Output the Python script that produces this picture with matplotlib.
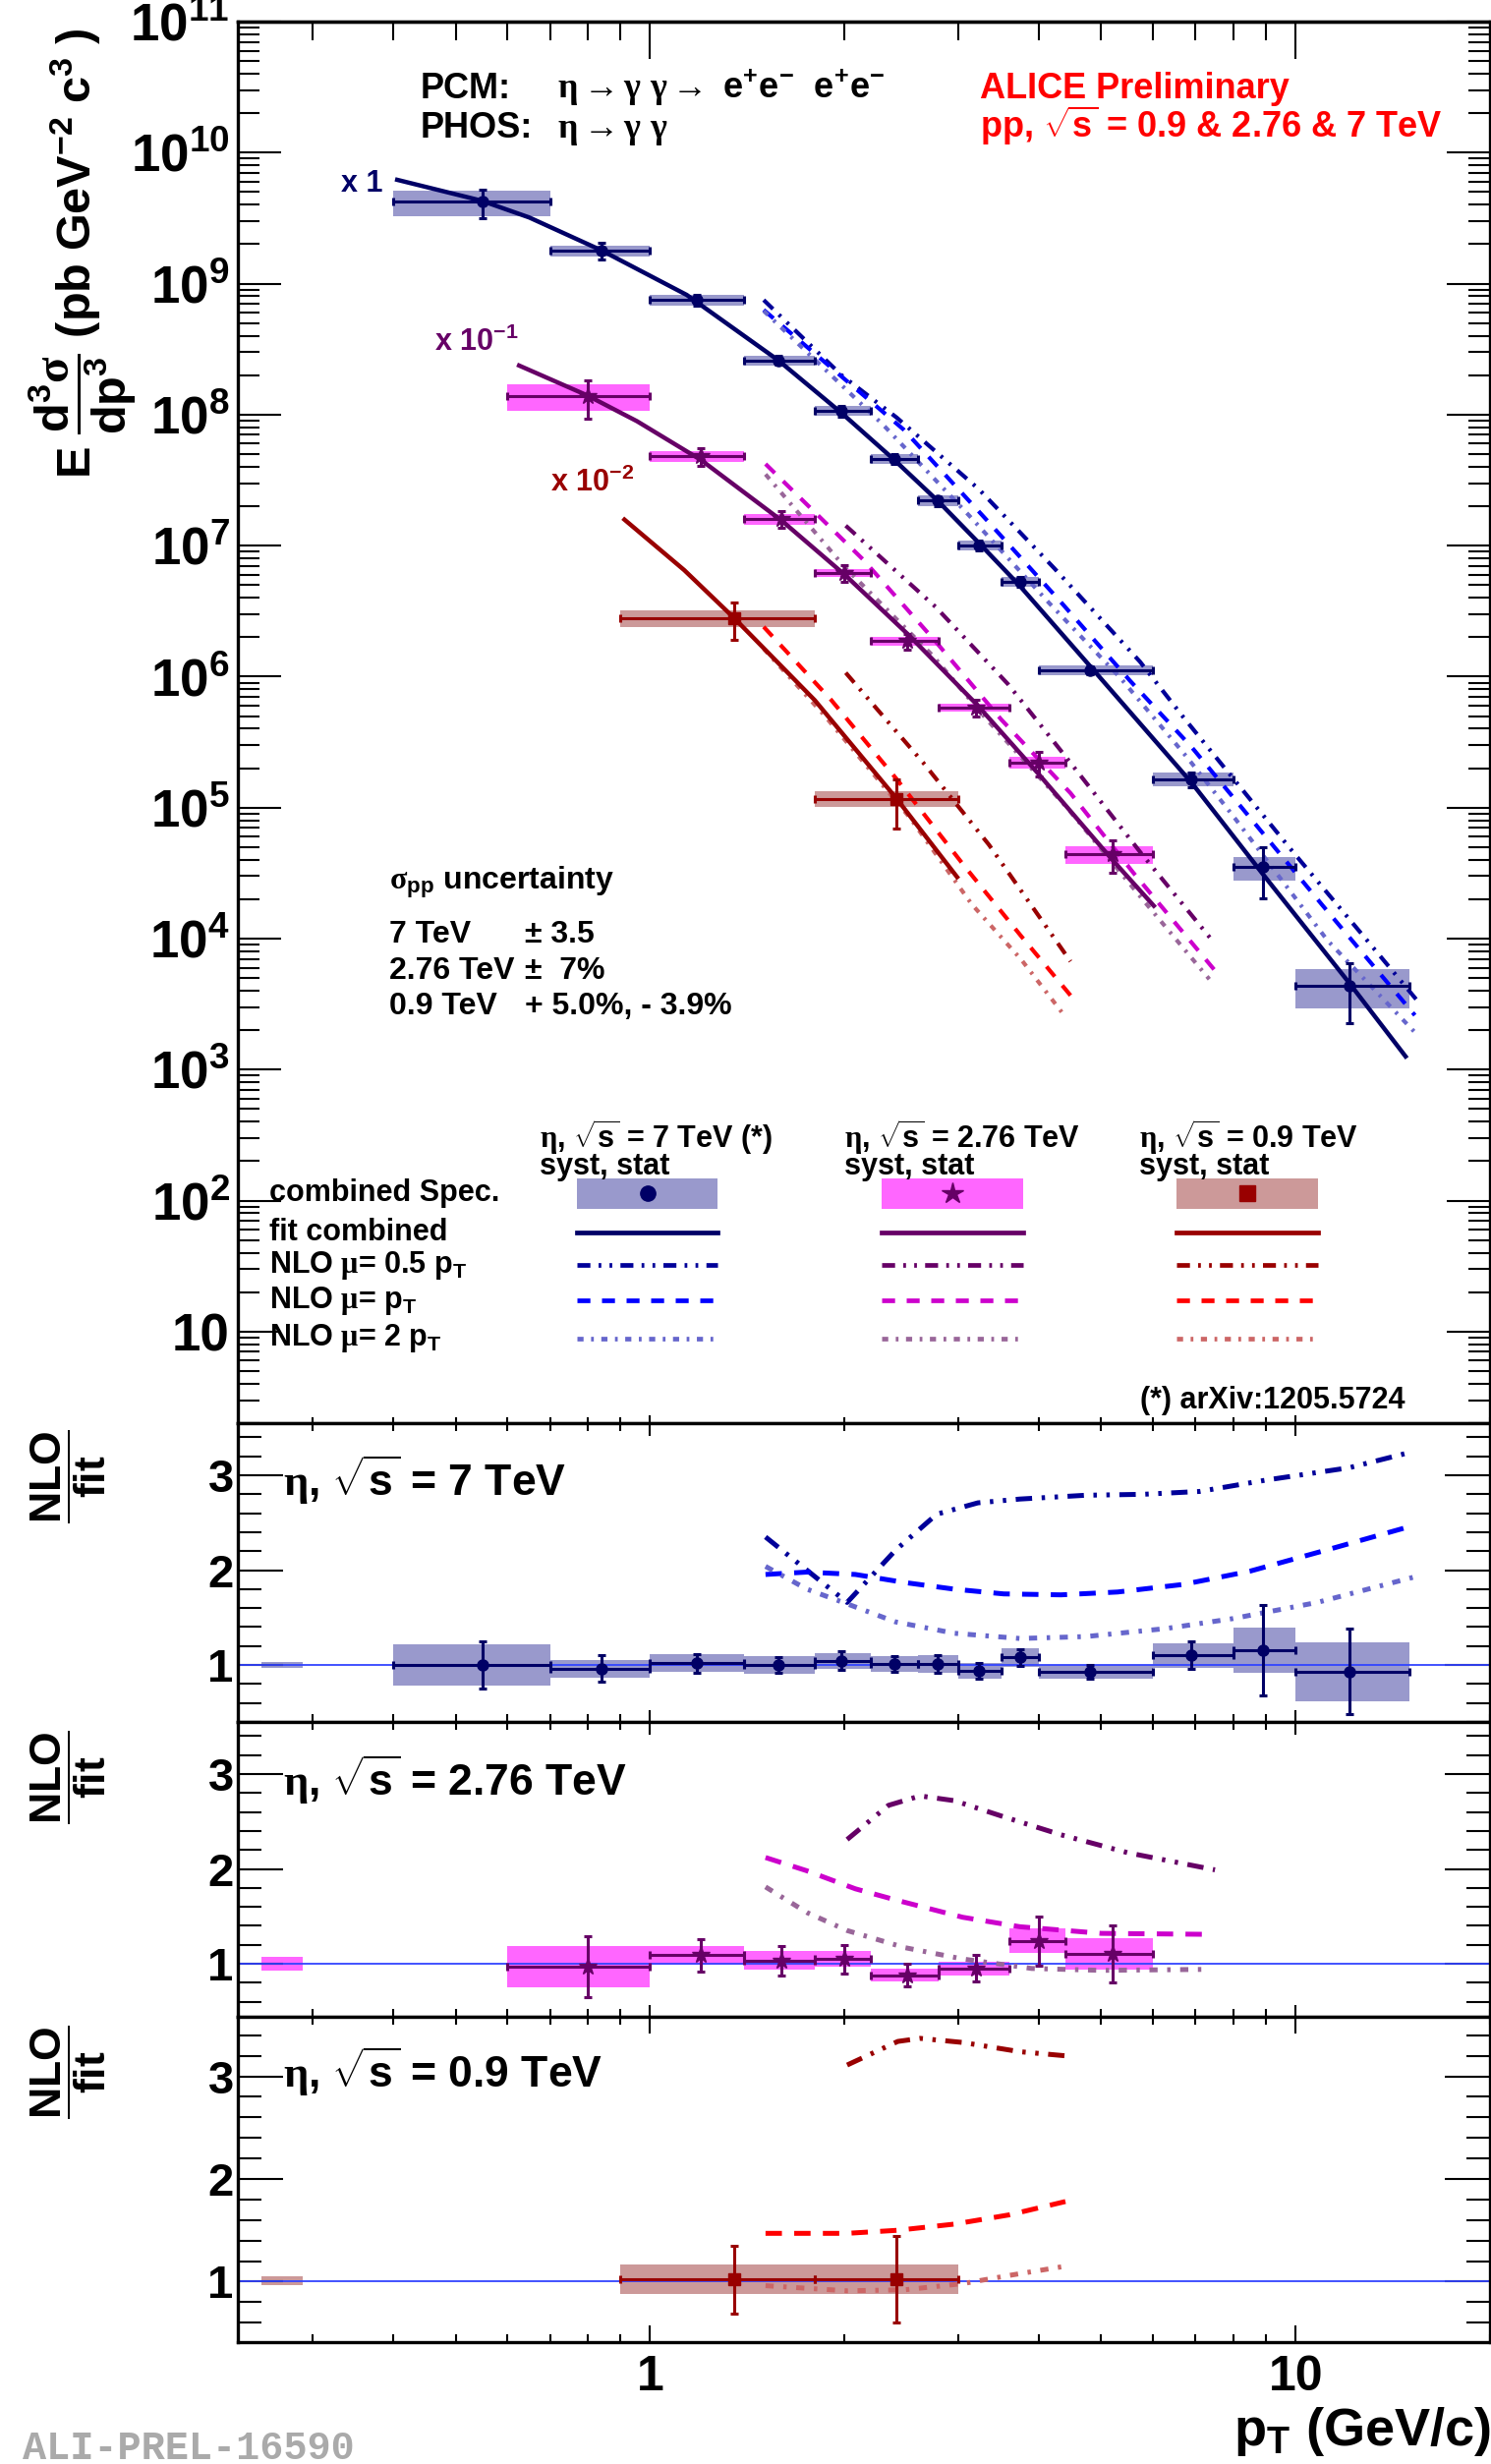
from __future__ import annotations

import matplotlib

matplotlib.use("Agg")
import matplotlib.pyplot as plt
import numpy as np
from matplotlib.lines import Line2D
from matplotlib.patches import Rectangle
from matplotlib.ticker import FixedFormatter, FixedLocator, NullFormatter

FIG_W, FIG_H = 1517, 2507

# ---- eta, sqrt(s) = 7 TeV (x 1) -------------------------------------------
PT_EDGES_7 = [0.4, 0.7, 1.0, 1.4, 1.8, 2.2, 2.6, 3.0, 3.5, 4.0, 6.0, 8.0, 10.0, 15.0]
PT_7 = [0.55, 0.84, 1.18, 1.58, 1.98, 2.39, 2.79, 3.23, 3.74, 4.8, 6.9, 8.9, 12.1]
YIELD_7 = [4.2e9, 1.78e9, 7.5e8, 2.6e8, 1.07e8, 4.6e7, 2.2e7, 1.0e7, 5.3e6, 1.12e6, 1.65e5, 3.5e4, 4.4e3]
RATIO_7 = [1.0, 0.96, 1.02, 1.0, 1.045, 1.01, 1.01, 0.94, 1.08, 0.93, 1.10, 1.155, 0.93]
SYST_7 = [0.22, 0.095, 0.095, 0.09, 0.085, 0.085, 0.095, 0.08, 0.095, 0.075, 0.125, 0.235, 0.31]
STAT_7 = [0.25, 0.14, 0.10, 0.08, 0.10, 0.08, 0.09, 0.08, 0.09, 0.07, 0.145, 0.48, 0.45]
FIT_PT_7 = [0.406, 0.548, 0.65, 0.84, 1.14, 1.58, 1.98, 2.38, 2.79, 3.23, 3.73, 4.82, 6.9, 8.9, 12.1, 14.8]
FIT_7 = [6.2e9, 4.3e9, 3.2e9, 1.8e9, 8.2e8, 2.6e8, 1.03e8, 4.6e7, 2.2e7, 1.05e7, 5.0e6, 1.18e6,
         1.55e5, 3.1e4, 4.6e3, 1.26e3]
NLO05_PT_7 = [1.5, 1.98, 2.41, 3.23, 4.23, 5.74, 6.7, 9.9, 12.9, 15.4]
NLO05_7 = [7.5e8, 2.0e8, 9.5e7, 2.7e7, 6.7e6, 1.3e6, 4.9e5, 4.6e4, 9.7e3, 3.4e3]
NLO1_PT_7 = [1.5, 2.47, 3.35, 4.33, 5.54, 6.9, 11.0, 15.3]
NLO1_7 = [6.3e8, 7.7e7, 1.5e7, 3.7e6, 9.3e5, 2.9e5, 1.8e4, 2.6e3]
NLO2_PT_7 = [1.5, 2.3, 3.12, 4.14, 5.35, 6.8, 8.05, 11.2, 15.5]
NLO2_7 = [6.2e8, 8.3e7, 1.7e7, 3.7e6, 9.8e5, 2.4e5, 8.3e4, 9.7e3, 1.8e3]
R_NLO05_PT_7 = [1.51, 2.02, 2.4, 2.78, 3.22, 3.74, 4.73, 5.8, 7.1, 9.0, 12.1, 15.2]
R_NLO05_7 = [2.35, 1.66, 2.21, 2.59, 2.71, 2.75, 2.79, 2.8, 2.83, 2.95, 3.08, 3.25]
R_NLO1_PT_7 = [1.51, 1.75, 2.08, 2.48, 2.96, 3.53, 4.33, 5.3, 6.7, 8.5, 11.4, 15.2]
R_NLO1_7 = [1.955, 1.98, 1.955, 1.87, 1.80, 1.75, 1.74, 1.77, 1.85, 1.99, 2.23, 2.47]
R_NLO2_PT_7 = [1.51, 1.75, 2.02, 2.4, 2.96, 3.74, 4.73, 6.3, 8.0, 10.8, 15.5]
R_NLO2_7 = [2.04, 1.8, 1.645, 1.455, 1.335, 1.28, 1.30, 1.385, 1.49, 1.66, 1.94]
NORM_7 = (0.035, 0.035)

# ---- eta, sqrt(s) = 2.76 TeV (x 10^-1) ------------------------------------
PT_EDGES_276 = [0.6, 1.0, 1.4, 1.8, 2.2, 2.8, 3.6, 4.4, 6.0]
PT_276 = [0.8, 1.2, 1.6, 2.0, 2.5, 3.2, 4.0, 5.2]
YIELD_276 = [1.38e9, 4.8e8, 1.6e8, 6.2e7, 1.87e7, 5.8e6, 2.2e6, 4.4e5]
RATIO_276 = [0.97, 1.09, 1.035, 1.05, 0.88, 0.95, 1.24, 1.10]
SYST_276 = [0.22, 0.10, 0.10, 0.08, 0.065, 0.07, 0.13, 0.165]
STAT_276 = [0.32, 0.17, 0.155, 0.15, 0.12, 0.14, 0.26, 0.30]
FIT_PT_276 = [0.627, 0.8, 0.955, 1.2, 1.6, 2.01, 2.51, 3.21, 4.0, 5.2, 6.03]
FIT_276 = [2.37e9, 1.4e9, 8.9e8, 4.5e8, 1.55e8, 5.9e7, 2.1e7, 6.1e6, 1.8e6, 4.0e5, 1.78e5]
NLO05_PT_276 = [2.01, 2.77, 3.59, 4.48, 5.74, 7.45]
NLO05_276 = [1.42e8, 3.4e7, 8.7e6, 2.2e6, 4.6e5, 9.5e4]
NLO1_PT_276 = [1.51, 2.14, 2.77, 3.5, 4.48, 5.6, 7.5]
NLO1_276 = [4.2e8, 7.8e7, 1.85e7, 4.7e6, 1.29e6, 3.2e5, 5.7e4]
NLO2_PT_276 = [1.51, 2.0, 2.74, 3.3, 4.44, 5.82, 7.35]
NLO2_276 = [3.5e8, 6.9e7, 1.45e7, 4.9e6, 9.8e5, 1.94e5, 4.9e4]
R_NLO05_PT_276 = [2.02, 2.34, 2.62, 2.96, 3.53, 4.33, 5.5, 7.5]
R_NLO05_276 = [2.31, 2.67, 2.77, 2.72, 2.55, 2.36, 2.17, 1.99]
R_NLO1_PT_276 = [1.51, 1.75, 2.08, 2.41, 3.05, 3.74, 5.0, 7.25]
R_NLO1_276 = [2.12, 1.98, 1.79, 1.67, 1.49, 1.39, 1.32, 1.31]
R_NLO2_PT_276 = [1.51, 1.75, 2.02, 2.48, 3.05, 3.9, 5.0, 7.2]
R_NLO2_276 = [1.81, 1.54, 1.35, 1.17, 1.05, 0.95, 0.93, 0.94]
NORM_276 = (0.07, 0.07)

# ---- eta, sqrt(s) = 0.9 TeV (x 10^-2) -------------------------------------
PT_EDGES_09 = [0.9, 1.8, 3.0]
PT_09 = [1.35, 2.41]
YIELD_09 = [2.8e8, 1.17e7]
RATIO_09 = [1.02, 1.02]
SYST_09 = [0.145, 0.145]
STAT_09 = [0.33, 0.42]
FIT_PT_09 = [0.913, 1.13, 1.35, 1.8, 2.41, 2.99]
FIT_09 = [1.58e9, 6.5e8, 2.8e8, 6.6e7, 1.17e7, 2.95e6]
NLO05_PT_09 = [2.01, 2.65, 3.35, 4.48]
NLO05_09 = [1.07e8, 2.2e7, 5.2e6, 6.7e5]
NLO1_PT_09 = [1.5, 1.91, 2.41, 3.08, 3.76, 4.52]
NLO1_09 = [2.4e8, 6.6e7, 1.65e7, 3.5e6, 1.04e6, 3.5e5]
NLO2_PT_09 = [1.5, 1.86, 2.53, 3.15, 3.76, 4.38]
NLO2_09 = [1.63e8, 5.1e7, 8.3e6, 1.83e6, 6.9e5, 2.6e5]
R_NLO05_PT_09 = [2.02, 2.42, 2.62, 3.05, 3.74, 4.4]
R_NLO05_09 = [3.11, 3.34, 3.37, 3.33, 3.24, 3.2]
R_NLO1_PT_09 = [1.51, 2.02, 2.42, 2.96, 3.6, 4.4]
R_NLO1_09 = [1.47, 1.47, 1.5, 1.56, 1.65, 1.78]
R_NLO2_PT_09 = [1.51, 2.02, 2.48, 3.05, 3.6, 4.4]
R_NLO2_09 = [0.96, 0.91, 0.92, 0.98, 1.06, 1.15]
NORM_09 = (0.05, 0.039)

SCALES = [1.0, 0.1, 0.01]
Y_DECADES = list(range(1, 12))

# ROOT-like palette
STYLE_7 = dict(line="#000066", box="#9999cc", nlo05="#000099", nlo1="#0000ff", nlo2="#6666cc", marker="o", ms=8)
STYLE_276 = dict(line="#660066", box="#ff66ff", nlo05="#660066", nlo1="#cc00cc", nlo2="#996699", marker="*", ms=13)
STYLE_09 = dict(line="#990000", box="#cc9999", nlo05="#990000", nlo1="#ff0000", nlo2="#cc6666", marker="s", ms=8)

DASH_05 = [9.5, 6.0, 2.0, 6.0, 2.0, 6.0]
DASH_1 = [9.5, 8.5]
DASH_2 = [4.5, 5.5, 2.0, 5.5]


def fx(px: float) -> float:
    return px / FIG_W


def fy(py: float) -> float:
    return 1.0 - py / FIG_H


def add_axes_px(fig, left, top, right, bottom):
    return fig.add_axes([fx(left), fy(bottom), (right - left) / FIG_W, (bottom - top) / FIG_H])


def log_minor(lo: float, hi: float) -> list[float]:
    out = []
    for dec in range(-2, 12):
        for m in range(2, 10):
            v = m * 10.0 ** dec
            if lo <= v <= hi:
                out.append(v)
    return out


def style_x(ax, major_len, minor_len, top=True):
    ax.set_xscale("log")
    ax.set_xlim(0.23, 20)
    ax.xaxis.set_major_locator(FixedLocator([1, 10]))
    ax.xaxis.set_minor_locator(FixedLocator(log_minor(0.23, 20)))
    ax.xaxis.set_major_formatter(NullFormatter())
    ax.xaxis.set_minor_formatter(NullFormatter())
    ax.tick_params(axis="x", which="major", direction="in", top=top, bottom=True, length=major_len, width=1.5)
    ax.tick_params(axis="x", which="minor", direction="in", top=top, bottom=True, length=minor_len, width=1.5)
    for sp in ax.spines.values():
        sp.set_linewidth(2.4)


def draw_main(ax, edges, pts, vals, ratio, syst, stat, scale, st, fit, nlos):
    lo = np.array(edges[:-1])
    hi = np.array(edges[1:])
    x = np.array(pts)
    y = np.array(vals) * scale
    rs = np.array(syst) / np.array(ratio)
    rt = np.array(stat) / np.array(ratio)
    ax.bar(lo, y * 2 * rs, width=hi - lo, bottom=y * (1 - rs), align="edge", color=st["box"], lw=0, zorder=1)
    for (px_, py_), col, dash in zip(nlos, (st["nlo05"], st["nlo1"], st["nlo2"]), (DASH_05, DASH_1, DASH_2)):
        ax.plot(px_, np.array(py_) * scale, color=col, lw=3.0, dashes=dash, zorder=2)
    ax.plot(fit[0], np.array(fit[1]) * scale, color=st["line"], lw=3.2, zorder=3)
    ax.errorbar(x, y, xerr=[x - lo, hi - x], yerr=y * rt, fmt=st["marker"], color=st["line"], ms=st["ms"],
                elinewidth=2.2, capsize=3, capthick=2.2, zorder=4)


def draw_ratio(ax, edges, pts, ratio, syst, stat, st, norm, curves, ylim):
    style_x(ax, 9, 6)
    ax.set_ylim(*ylim)
    ax.yaxis.set_major_locator(FixedLocator([1, 2, 3]))
    ax.yaxis.set_major_formatter(FixedFormatter(["1", "2", "3"]))
    ax.yaxis.set_minor_locator(FixedLocator([v / 10 for v in range(4, 36, 2) if v % 10]))
    ax.tick_params(axis="y", which="major", direction="in", right=True, length=33, width=1.5, pad=3,
                   labelsize=34)
    ax.tick_params(axis="y", which="minor", direction="in", right=True, length=17, width=1.5)
    ax.axhline(1.0, color="#3344ff", lw=1.3, zorder=2)
    # normalisation uncertainty box
    ax.add_patch(Rectangle((0.25, 1 - norm[1]), 0.04, norm[0] + norm[1], color=st["box"], lw=0, zorder=1))
    lo = np.array(edges[:-1])
    hi = np.array(edges[1:])
    x = np.array(pts)
    r = np.array(ratio)
    s = np.array(syst)
    ax.bar(lo, 2 * s, width=hi - lo, bottom=r - s, align="edge", color=st["box"], lw=0, zorder=1)
    for (px_, py_), col, dash in zip(curves, (st["nlo05"], st["nlo1"], st["nlo2"]),
                                     ([12, 7, 2.5, 7, 2.5, 7], [12, 9], [6, 7, 2.5, 7])):
        ax.plot(px_, py_, color=col, lw=3.6, dashes=dash, zorder=3)
    ax.errorbar(x, r, xerr=[x - lo, hi - x], yerr=stat, fmt=st["marker"], color=st["line"], ms=st["ms"],
                elinewidth=2.2, capsize=3, capthick=2.2, zorder=4)


def legend_block(fig):
    rows = [1214, 1254, 1287, 1323, 1362]
    labels = ["combined Spec.", "fit combined", r"NLO $\mu$= 0.5 $\mathbf{p_{T}}$", r"NLO $\mu$= $\mathbf{p_{T}}$",
              r"NLO $\mu$= 2 $\mathbf{p_{T}}$"]
    for yy, lab in zip(rows, labels):
        fig.text(fx(274), fy(yy), lab, va="center", fontsize=22)
    cols = [
        (587, 730, STYLE_7, r"$\eta$, $\sqrt{\mathbf{s}}$ = 7 TeV (*)"),
        (897, 1041, STYLE_276, r"$\eta$, $\sqrt{\mathbf{s}}$ = 2.76 TeV"),
        (1197, 1341, STYLE_09, r"$\eta$, $\sqrt{\mathbf{s}}$ = 0.9 TeV"),
    ]
    for x0, x1, st, head in cols:
        fig.text(fx(x0 - 38), fy(1168), head, fontsize=22)
        fig.text(fx(x0 - 38), fy(1195), "syst, stat", fontsize=22)
        fig.add_artist(Rectangle((fx(x0), fy(1230)), (x1 - x0) / FIG_W, 31 / FIG_H, transform=fig.transFigure,
                                 color=st["box"], lw=0))
        fig.add_artist(Line2D([fx((x0 + x1) / 2)], [fy(1214)], marker=st["marker"], ms=st["ms"] + 3,
                              color=st["line"], transform=fig.transFigure))
        fig.add_artist(Line2D([fx(x0), fx(x1)], [fy(1254)] * 2, lw=3.4, color=st["line"], transform=fig.transFigure))
        for yy, col, dash in ((1287, st["nlo05"], DASH_05), (1323, st["nlo1"], DASH_1), (1362, st["nlo2"], DASH_2)):
            fig.add_artist(Line2D([fx(x0), fx(x1)], [fy(yy)] * 2, lw=3.4, color=col, dashes=dash,
                                  transform=fig.transFigure))


def main() -> None:
    plt.rcParams.update({
        "font.family": ["Liberation Sans", "DejaVu Sans"],
        "font.weight": "bold",
        "mathtext.fontset": "custom",
        "mathtext.rm": "Liberation Serif",
        "mathtext.it": "Liberation Serif:italic",
        "mathtext.bf": "Liberation Sans:bold",
        "mathtext.sf": "Liberation Sans:bold",
        "mathtext.default": "rm",
        "lines.scale_dashes": False,
    })
    fig = plt.figure(figsize=(FIG_W / 100, FIG_H / 100), dpi=100)

    # ---- main spectrum panel ----
    ax = add_axes_px(fig, 242, 22, 1516, 1448)
    style_x(ax, 6, 4, top=False)
    top = ax.secondary_xaxis("top")
    top.set_xticks([1, 10])
    top.set_xticks(log_minor(0.23, 20), minor=True)
    top.xaxis.set_major_formatter(NullFormatter())
    top.xaxis.set_minor_formatter(NullFormatter())
    top.tick_params(axis="x", which="major", direction="in", length=27, width=1.5)
    top.tick_params(axis="x", which="minor", direction="in", length=14, width=1.5)
    top.spines["top"].set_linewidth(2.4)
    ax.set_yscale("log")
    ax.set_ylim(2, 1e11)
    ax.yaxis.set_major_locator(FixedLocator([10.0 ** k for k in Y_DECADES]))
    ax.yaxis.set_major_formatter(FixedFormatter(
        ["10"] + [r"$\mathbf{10^{%d}}$" % k for k in Y_DECADES[1:]]))
    ax.yaxis.set_minor_locator(FixedLocator(log_minor(2, 1e11)))
    ax.yaxis.set_minor_formatter(NullFormatter())
    ax.tick_params(axis="y", which="major", direction="in", right=True, length=32, width=1.5, pad=6,
                   labelsize=38)
    ax.tick_params(axis="y", which="minor", direction="in", right=True, length=16, width=1.5)

    draw_main(ax, PT_EDGES_7, PT_7, YIELD_7, RATIO_7, SYST_7, STAT_7, SCALES[0], STYLE_7,
              (FIT_PT_7, FIT_7), [(NLO05_PT_7, NLO05_7), (NLO1_PT_7, NLO1_7), (NLO2_PT_7, NLO2_7)])
    draw_main(ax, PT_EDGES_276, PT_276, YIELD_276, RATIO_276, SYST_276, STAT_276, SCALES[1], STYLE_276,
              (FIT_PT_276, FIT_276), [(NLO05_PT_276, NLO05_276), (NLO1_PT_276, NLO1_276), (NLO2_PT_276, NLO2_276)])
    draw_main(ax, PT_EDGES_09, PT_09, YIELD_09, RATIO_09, SYST_09, STAT_09, SCALES[2], STYLE_09,
              (FIT_PT_09, FIT_09), [(NLO05_PT_09, NLO05_09), (NLO1_PT_09, NLO1_09), (NLO2_PT_09, NLO2_09)])

    # ---- ratio panels ----
    ratio_specs = [
        ((242, 1448, 1516, 1752), PT_EDGES_7, PT_7, RATIO_7, SYST_7, STAT_7, STYLE_7, NORM_7,
         [(R_NLO05_PT_7, R_NLO05_7), (R_NLO1_PT_7, R_NLO1_7), (R_NLO2_PT_7, R_NLO2_7)], (0.40, 3.55), "7"),
        ((242, 1752, 1516, 2052), PT_EDGES_276, PT_276, RATIO_276, SYST_276, STAT_276, STYLE_276, NORM_276,
         [(R_NLO05_PT_276, R_NLO05_276), (R_NLO1_PT_276, R_NLO1_276), (R_NLO2_PT_276, R_NLO2_276)],
         (0.44, 3.55), "2.76"),
        ((242, 2052, 1516, 2383), PT_EDGES_09, PT_09, RATIO_09, SYST_09, STAT_09, STYLE_09, NORM_09,
         [(R_NLO05_PT_09, R_NLO05_09), (R_NLO1_PT_09, R_NLO1_09), (R_NLO2_PT_09, R_NLO2_09)],
         (0.41, 3.58), "0.9"),
    ]
    label_y = [1522, 1827, 2124]
    frac_y = [1502, 1808, 2108]
    rax = None
    for spec, ly, fyy in zip(ratio_specs, label_y, frac_y):
        box, edges, pts, ratio, syst, stat, st, norm, curves, ylim, energy = spec
        rax = add_axes_px(fig, *box)
        draw_ratio(rax, edges, pts, ratio, syst, stat, st, norm, curves, ylim)
        fig.text(fx(288), fy(ly), r"$\eta$, $\sqrt{\mathbf{s}}$ = %s TeV" % energy, fontsize=32)
        fig.text(fx(70), fy(fyy), r"$\dfrac{\mathbf{NLO}}{\mathbf{fit}}$", rotation=90, ha="center",
                 va="center", fontsize=32)

    rax.xaxis.set_major_formatter(FixedFormatter(["1", "10"]))
    rax.tick_params(axis="x", which="major", labelsize=36, pad=9, length=12)

    # ---- texts in the main panel ----
    fig.text(fx(84), fy(28), r"$\mathbf{E}\ \dfrac{\mathbf{d^{3}}\sigma}{\mathbf{dp^{3}}}\ "
                             r"\mathbf{(pb\ GeV^{-2}\ c^{3}\ )}$",
             rotation=90, ha="center", va="top", fontsize=35)
    fig.text(fx(428), fy(100), "PCM:", fontsize=26)
    fig.text(fx(428), fy(140), "PHOS:", fontsize=26)
    fig.text(fx(567), fy(100), r"$\eta \rightarrow \gamma\ \gamma \rightarrow$ $\mathbf{e^{+}e^{-}}$  "
                               r"$\mathbf{e^{+}e^{-}}$", fontsize=26)
    fig.text(fx(567), fy(140), r"$\eta \rightarrow \gamma\ \gamma$", fontsize=26)
    fig.text(fx(997), fy(100), "ALICE Preliminary", fontsize=26, color="#ff0000")
    fig.text(fx(997), fy(140), r"pp, $\sqrt{\mathbf{s}}$ = 0.9 & 2.76 & 7 TeV", fontsize=26, color="#ff0000")
    fig.text(fx(347), fy(195), "x 1", fontsize=22, color=STYLE_7["line"])
    fig.text(fx(442), fy(357), r"x $\mathbf{10^{-1}}$", fontsize=22, color=STYLE_276["line"])
    fig.text(fx(560), fy(500), r"x $\mathbf{10^{-2}}$", fontsize=22, color=STYLE_09["line"])

    fig.text(fx(396), fy(904), r"$\sigma_{\mathbf{pp}}$ uncertainty", fontsize=23)
    for yy, lab, unc in ((959, "7 TeV", "± 3.5"), (996, "2.76 TeV", "±  7%"), (1032, "0.9 TeV", "+ 5.0%, - 3.9%")):
        fig.text(fx(396), fy(yy), lab, fontsize=23)
        fig.text(fx(534), fy(yy), unc, fontsize=23)

    legend_block(fig)
    fig.text(fx(1160), fy(1433), "(*) arXiv:1205.5724", fontsize=22)

    fig.text(fx(1517), fy(2488), r"$\mathbf{p_{T}}$ (GeV/c)", ha="right", fontsize=39)
    fig.text(fx(23), fy(2502), "ALI-PREL-16590", family="Liberation Mono", fontsize=29, color="#aaaaaa")

    fig.savefig("out.png", dpi=100)
    plt.close(fig)


if __name__ == "__main__":
    main()
